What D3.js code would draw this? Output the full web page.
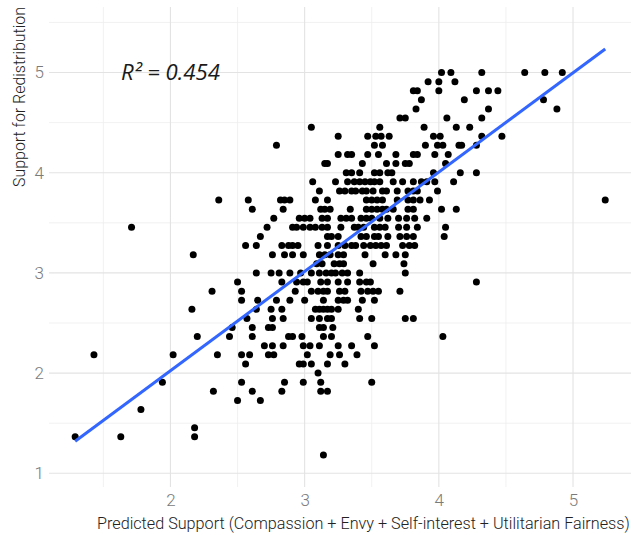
<!DOCTYPE html>
<html>
<head>
<meta charset="utf-8">
<script src="https://cdn.jsdelivr.net/npm/d3@7"></script>
<style>
  body { margin: 0; background: #fff; }
  svg { display: block; }
</style>
</head>
<body>
<div id="chart"></div>
<script>
// support for redistribution comes in steps of 1/11, so points sit on rows
const supportLevels = [
  5.000, 4.909, 4.818, 4.727, 4.636, 4.545, 4.455, 4.364, 4.273, 4.182,
  4.091, 4.000, 3.909, 3.818, 3.727, 3.636, 3.545, 3.455, 3.364, 3.273,
  3.182, 3.091, 3.000, 2.909, 2.818, 2.727, 2.636, 2.545, 2.455, 2.364,
  2.273, 2.182, 2.091, 2.000, 1.909, 1.818, 1.727, 1.636, 1.455, 1.364,
  1.182
];
// predicted support of each respondent, one list per support level above
const predictedByLevel = [
  [4.02, 4.09, 4.32, 4.64, 4.79, 4.92],
  [3.92, 4.00, 4.12],
  [3.81, 3.84, 4.00, 4.28, 4.37, 4.44],
  [3.87, 4.19, 4.78],
  [3.83, 4.37, 4.88],
  [3.71, 3.75, 4.06, 4.32],
  [3.05, 3.56, 3.89, 4.13, 4.23],
  [3.25, 3.47, 3.53, 3.57, 3.63, 3.96, 4.01, 4.32, 4.47],
  [2.79, 3.52, 3.58, 3.90, 3.99, 4.03, 4.15, 4.17, 4.28],
  [3.25, 3.32, 3.35, 3.47, 3.55, 3.68, 3.81, 3.84, 3.97, 4.07],
  [3.15, 3.17, 3.43, 3.61, 3.68, 3.75, 3.78, 4.05],
  [3.31, 3.35, 3.41, 3.52, 3.56, 3.62, 3.65, 3.96, 4.16, 4.28],
  [3.06, 3.23, 3.32, 3.37, 3.41, 3.45, 3.49, 3.52, 3.56, 3.66, 3.73, 3.81, 3.87, 3.91, 3.97, 4.11],
  [3.11, 3.26, 3.30, 3.35, 3.38, 3.43, 3.46, 3.51, 3.58, 3.61, 3.69, 3.77, 3.81, 3.84, 3.99],
  [2.36, 2.58, 2.82, 2.85, 2.89, 3.08, 3.17, 3.46, 3.50, 3.54, 3.58, 3.69, 3.77, 3.81, 3.86, 3.93, 5.24],
  [2.61, 2.84, 3.12, 3.15, 3.19, 3.34, 3.46, 3.50, 3.54, 3.58, 3.61, 3.66, 3.77, 3.81, 4.02, 4.13],
  [2.77, 2.96, 3.00, 3.04, 3.13, 3.17, 3.27, 3.31, 3.35, 3.42, 3.46, 3.50, 3.56, 3.62, 3.70, 3.76, 3.82, 3.91],
  [1.71, 2.72, 2.91, 2.94, 2.99, 3.04, 3.08, 3.13, 3.17, 3.27, 3.37, 3.40, 3.44, 3.52, 3.56, 3.60, 3.70, 3.76, 3.84, 4.05],
  [2.67, 3.17, 3.20, 3.25, 3.42, 3.46, 3.52, 3.55, 3.62, 3.71, 3.76, 3.81, 4.04],
  [2.56, 2.64, 2.83, 2.88, 2.91, 2.95, 3.10, 3.17, 3.25, 3.30, 3.35, 3.38, 3.44, 3.49, 3.53, 3.57, 3.61, 3.73, 3.78, 3.82],
  [2.17, 2.76, 2.85, 2.91, 2.99, 3.11, 3.15, 3.19, 3.25, 3.29, 3.45, 3.60, 3.68, 3.75],
  [3.09, 3.13, 3.22, 3.26, 3.29, 3.51, 3.74],
  [2.64, 2.75, 2.81, 2.89, 2.97, 3.05, 3.11, 3.16, 3.20, 3.23, 3.28, 3.32, 3.41, 3.75],
  [2.50, 2.83, 2.94, 2.99, 3.02, 3.12, 3.17, 3.25, 3.32, 3.41, 3.46, 3.49, 4.28],
  [2.31, 2.53, 2.93, 3.05, 3.10, 3.14, 3.17, 3.26, 3.30, 3.42, 3.47, 3.51, 3.55, 3.71],
  [2.53, 2.65, 2.79, 2.89, 3.00, 3.14, 3.25, 3.29, 3.32, 3.43, 3.52],
  [2.16, 2.64, 2.75, 2.83, 3.08, 3.11, 3.14, 3.17, 3.20, 3.25, 3.40],
  [2.57, 2.76, 2.84, 3.05, 3.11, 3.17, 3.20, 3.41, 3.50, 3.75, 3.81],
  [2.46, 2.61, 2.73, 2.76, 3.11, 3.14, 3.21],
  [2.20, 2.44, 2.61, 2.88, 2.91, 2.98, 3.14, 3.20, 3.47, 4.03],
  [2.70, 2.76, 2.84, 2.99, 3.04, 3.11, 3.25, 3.35, 3.52],
  [1.43, 2.02, 2.35, 2.53, 2.59, 2.73, 2.77, 3.02, 3.19, 3.26, 3.39],
  [2.56, 2.96, 2.99, 3.05, 3.17, 3.30],
  [3.10],
  [1.94, 2.53, 2.85, 2.99, 3.12, 3.50],
  [2.32, 2.61, 2.83, 3.12, 3.17],
  [2.50, 2.67],
  [1.78],
  [2.18],
  [1.29, 1.63, 2.18],
  [3.14]
];
// linear fit shown in blue
const fitIntercept = 0.042;
const fitSlope = 0.991;
const fitRange = [1.29, 5.24];
const rSquared = "0.454";

const xTicks = [2, 3, 4, 5];
const xMinor = [1.5, 2.5, 3.5, 4.5];
const yTicks = [1, 2, 3, 4, 5];
const yMinor = [1.5, 2.5, 3.5, 4.5, 5.5];

const xTitle = "Predicted Support (Compassion + Envy + Self-interest + Utilitarian Fairness)";
const yTitle = "Support for Redistribution";

const width = 631, height = 535;
const panel = { left: 49, right: 631, top: 7, bottom: 487 };

let points = [];
supportLevels.forEach((s, i) => {
  predictedByLevel[i].forEach(p => points.push({ predicted: p, support: s }));
});

let svg = d3.select("#chart").append("svg")
  .attr("width", width)
  .attr("height", height);

let x = d3.scaleLinear().domain([1.095, 5.432]).range([panel.left, panel.right]);
let y = d3.scaleLinear().domain([0.863, 5.654]).range([panel.bottom, panel.top]);

// squeeze text horizontally so it spans the same width as in the picture
function fitWidth(sel, target, base) {
  let len = sel.node().getComputedTextLength();
  sel.attr("transform", base + " scale(" + (target / len) + ",1)");
}

// grid
let grid = svg.append("g");
grid.selectAll(".xminor").data(xMinor).enter().append("line")
  .attr("x1", d => x(d)).attr("x2", d => x(d))
  .attr("y1", panel.top).attr("y2", panel.bottom)
  .attr("stroke", "#eeeeee").attr("stroke-width", 0.8);
grid.selectAll(".yminor").data(yMinor).enter().append("line")
  .attr("x1", panel.left).attr("x2", panel.right)
  .attr("y1", d => y(d)).attr("y2", d => y(d))
  .attr("stroke", "#eeeeee").attr("stroke-width", 0.8);
grid.selectAll(".xmajor").data(xTicks).enter().append("line")
  .attr("x1", d => x(d)).attr("x2", d => x(d))
  .attr("y1", panel.top).attr("y2", panel.bottom)
  .attr("stroke", "#e3e3e3").attr("stroke-width", 1.1);
grid.selectAll(".ymajor").data(yTicks).enter().append("line")
  .attr("x1", panel.left).attr("x2", panel.right)
  .attr("y1", d => y(d)).attr("y2", d => y(d))
  .attr("stroke", "#e3e3e3").attr("stroke-width", 1.1);

// axes: only the labels, like theme_minimal
let xAxis = svg.append("g")
  .attr("transform", "translate(0," + panel.bottom + ")")
  .call(d3.axisBottom(x).tickValues(xTicks).tickSize(0).tickPadding(7).tickFormat(d3.format("d")));
xAxis.select(".domain").remove();
xAxis.selectAll("text")
  .attr("font-family", "Roboto, sans-serif").attr("font-size", 17)
  .attr("font-weight", 300)
  .attr("fill", "#7a7a7a").attr("dy", "0.71em");

let yAxis = svg.append("g")
  .attr("transform", "translate(" + (panel.left - 5) + ",0)")
  .call(d3.axisLeft(y).tickValues(yTicks).tickSize(0).tickPadding(0).tickFormat(d3.format("d")));
yAxis.select(".domain").remove();
yAxis.selectAll("text")
  .attr("font-family", "Roboto, sans-serif").attr("font-size", 17)
  .attr("font-weight", 300)
  .attr("fill", "#7a7a7a");

// points
svg.append("g").selectAll("circle")
  .data(points)
  .enter()
  .append("circle")
  .attr("cx", d => x(d.predicted))
  .attr("cy", d => y(d.support))
  .attr("r", 3.5)
  .attr("fill", "#000");

// regression line
let line = d3.line()
  .x(d => x(d))
  .y(d => y(fitIntercept + fitSlope * d));
svg.append("path")
  .datum(fitRange)
  .attr("fill", "none")
  .attr("stroke", "#3366FF")
  .attr("stroke-width", 3)
  .attr("d", line);

// R squared note
let r2 = svg.append("text")
  .attr("font-family", "'Open Sans', sans-serif")
  .attr("font-style", "italic")
  .attr("font-size", 22)
  .attr("fill", "#1a1a1a")
  .text("R\u00b2 = " + rSquared);
fitWidth(r2, 99, "translate(121,80)");

// axis titles
let xt = svg.append("text")
  .attr("font-family", "Roboto, sans-serif")
  .attr("font-size", 17)
  .attr("font-weight", 300)
  .attr("fill", "#222")
  .text(xTitle);
fitWidth(xt, 533, "translate(97,529)");

let yt = svg.append("text")
  .attr("font-family", "Roboto, sans-serif")
  .attr("font-size", 17)
  .attr("font-weight", 300)
  .attr("fill", "#222")
  .attr("text-anchor", "middle")
  .text(yTitle);
fitWidth(yt, 180, "translate(25,97) rotate(-90)");
</script>
</body>
</html>
